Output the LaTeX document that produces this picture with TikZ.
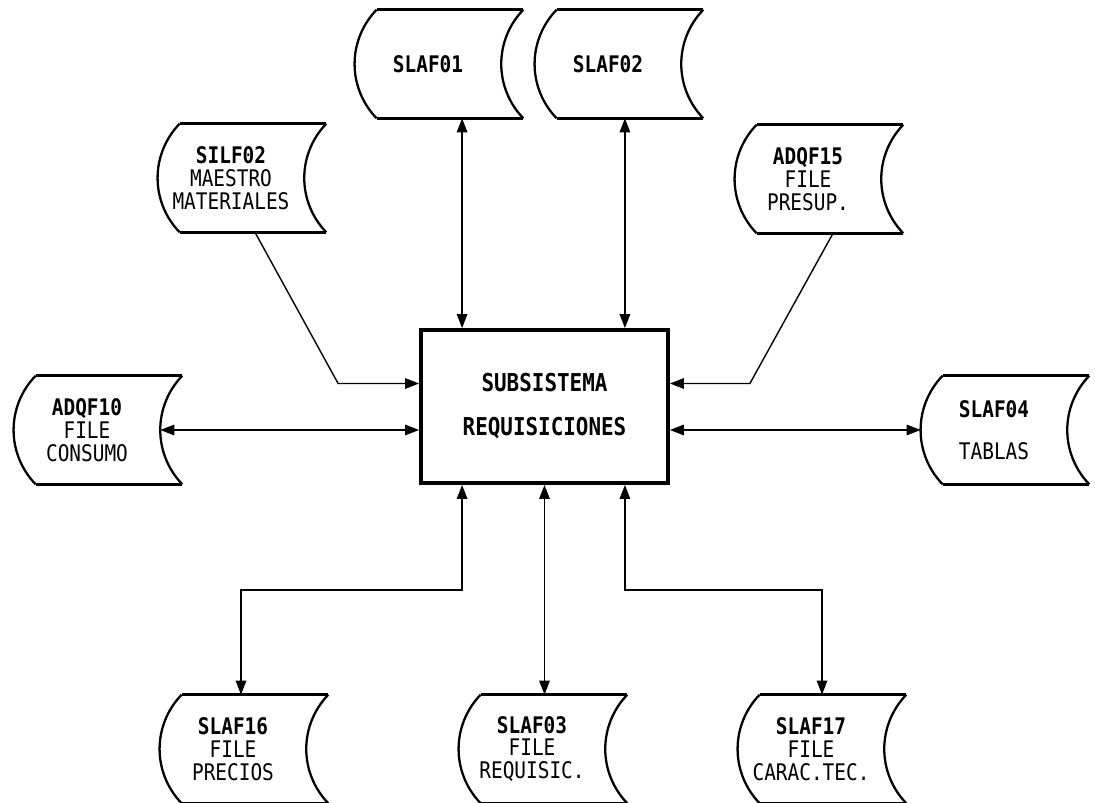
\documentclass[tikz,border=0pt]{standalone}
\usepackage{fontspec}
\usepackage{tikz}
\usetikzlibrary{arrows.meta}
\newfontfamily\archfont[FakeStretch=0.85]{DejaVu Sans Mono}

\tikzset{
	archivo/.style={rectangle, minimum width=2.92cm, minimum height=2.16cm, inner sep=0pt, align=center, font=\archfont\fontsize{13}{13}\selectfont},
	borde/.style={line width=2pt},
	arco/.style={line width=1.3pt},
	flujo/.style={line width=0.8pt, -{Triangle[length=8pt,width=6pt]}},
	doble/.style={line width=0.8pt, {Triangle[length=8pt,width=6pt]}-{Triangle[length=8pt,width=6pt]}},
}

\begin{document}
\begin{tikzpicture}[x=0.02cm, y=-0.02cm]
						\useasboundingbox (0,0) rectangle (1095,803);
						
						\node[draw, line width=2.2pt, minimum width=4.94cm, minimum height=3.06cm, align=center, font=\archfont\bfseries\fontsize{14}{13}\selectfont] (sub) at (544.5,406.5) {SUBSISTEMA\\[12pt]REQUISICIONES};
						
						\node[archivo] (SLAF01) at (428,64) {\textbf{SLAF01}};
						\node[archivo] (SLAF02) at (608,64) {\textbf{SLAF02}};
						\node[archivo] (SILF02) at (231,178) {\textbf{SILF02}\\MAESTRO\\MATERIALES};
						\node[archivo] (ADQF15) at (808,179) {\textbf{ADQF15}\\FILE\\PRESUP.};
						\node[archivo] (ADQF10) at (87,430) {\textbf{ADQF10}\\FILE\\CONSUMO};
						\node[archivo] (SLAF04) at (994,430) {\textbf{SLAF04}\\[11pt]TABLAS};
						\node[archivo] (SLAF16) at (233,749) {\textbf{SLAF16}\\FILE\\PRECIOS};
						\node[archivo] (SLAF03) at (532,749) {\textbf{SLAF03}\\FILE\\REQUISIC.};
						\node[archivo] (SLAF17) at (811,749) {\textbf{SLAF17}\\FILE\\CARAC.TEC.};
						
						\foreach \f in {SLAF01,SLAF02,SILF02,ADQF15,ADQF10,SLAF04,SLAF16,SLAF03,SLAF17}{
							\draw[borde] ([xshift=0.44cm]\f.north west) -- ([xshift=0.44cm]\f.north east);
							\draw[borde] ([xshift=0.44cm]\f.south west) -- ([xshift=0.44cm]\f.south east);
							\draw[arco] ([xshift=0.44cm]\f.north west) to[bend right=44] ([xshift=0.44cm]\f.south west);
							\draw[arco] ([xshift=0.44cm]\f.north east) to[bend right=44] ([xshift=0.44cm]\f.south east);
						}
						
						\coordinate (t1) at ([xshift=0.86cm]sub.north west);
						\coordinate (t2) at ([xshift=-0.9cm]sub.north east);
						\coordinate (l1) at ([yshift=0.46cm]sub.west);
						\coordinate (r1) at ([yshift=0.46cm]sub.east);
						\coordinate (b1) at ([xshift=0.86cm]sub.south west);
						\coordinate (b3) at ([xshift=-0.9cm]sub.south east);
						
						\draw[doble] (SLAF01.south -| t1) -- (t1);
						\draw[doble] (SLAF02.south -| t2) -- (t2);
						\draw[flujo] ([xshift=0.48cm]SILF02.south) -- ([xshift=-1.62cm]l1) -- (l1);
						\draw[flujo] ([xshift=0.5cm]ADQF15.south) -- ([xshift=1.6cm]r1) -- (r1);
						\draw[doble] (ADQF10.east) -- (ADQF10.east -| sub.west);
						\draw[doble] (SLAF04.west -| sub.east) -- (SLAF04.west);
						\draw[doble] (b1) -- ++(0,-2.1cm) -| ([xshift=0.16cm]SLAF16.north);
						\draw[doble] (sub.south) -- (sub.south |- SLAF03.north);
						\draw[doble] (b3) -- ++(0,-2.1cm) -| ([xshift=0.22cm]SLAF17.north);
					\end{tikzpicture}
\end{document}
